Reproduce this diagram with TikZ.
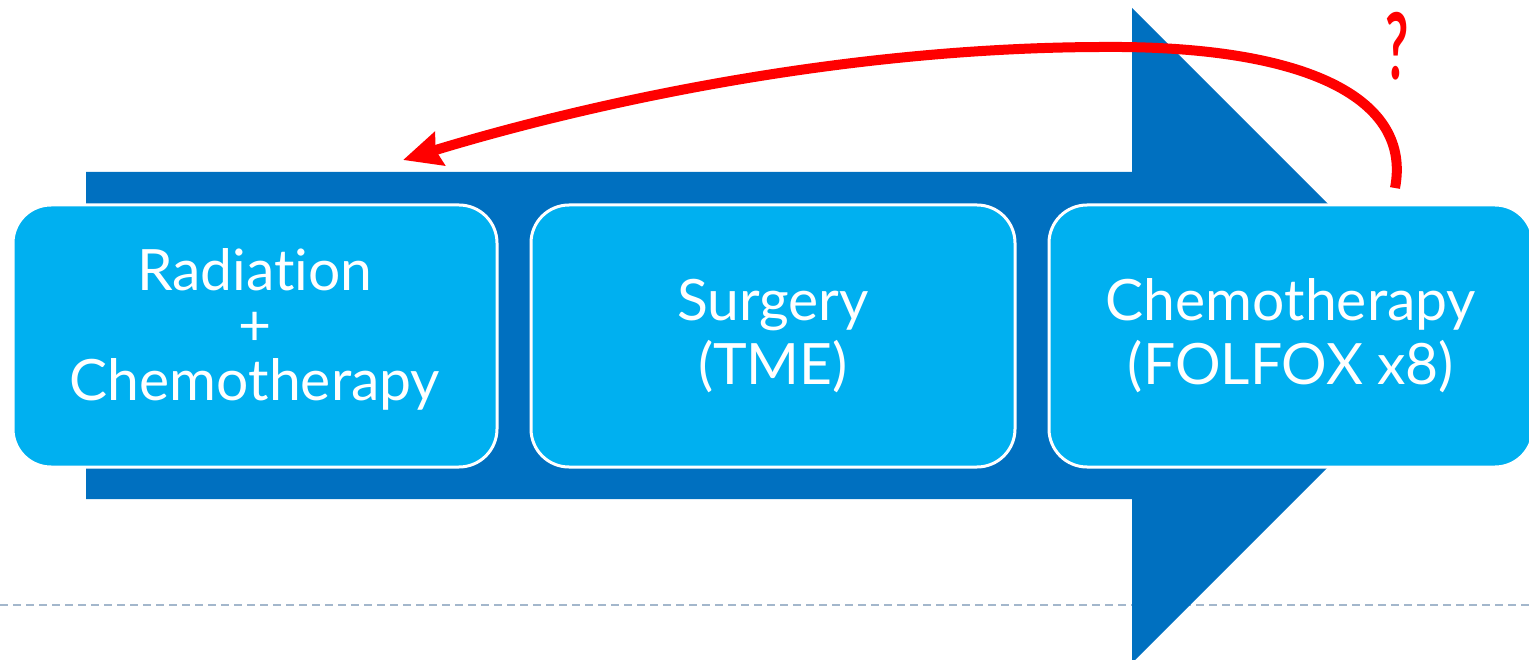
\documentclass[tikz,border=0pt]{standalone}
\usepackage{fontspec}
\newfontfamily\boxfont[Ligatures={NoCommon}]{Lato}
\newfontfamily\qfont{Lato Bold}
\usetikzlibrary{arrows.meta}
\definecolor{darkblue}{HTML}{0070C0}
\definecolor{lightblue}{HTML}{00B0F0}
\definecolor{dashcol}{HTML}{A3B7CC}
\definecolor{redline}{HTML}{FF0000}
\tikzset{
  stepbox/.style={draw=white, line width=3pt, fill=lightblue, rounded corners=38pt,
    minimum width=484pt, minimum height=262pt, inner sep=0pt, align=center,
    text=white},
  boxtextA/.style={font=\boxfont\fontsize{57}{55}\selectfont},
  boxtextB/.style={font=\boxfont\fontsize{57}{64}\selectfont},
  loopline/.style={draw=redline, line width=10pt,
    -{Stealth[length=38pt, width=34pt, inset=4pt]}},
}
\begin{document}
\begin{tikzpicture}[x=1pt, y=-1pt]
\useasboundingbox (0,0) rectangle (1529,660);
% dashed baseline
\coordinate (dl) at (0,605);
\coordinate (dr) at (1529,605);
\draw[dashcol, line width=2pt, dash pattern=on 8pt off 5pt] (dl) -- (dr);
% big arrow
\fill[darkblue] (86,172) -- (1132,172) -- (1132,8) -- (1459.5,335.5)
  -- (1132,663) -- (1132,499) -- (86,499) -- cycle;
% boxes
\node[stepbox, boxtextA] (b1) at (255,336)
  {Radiation\\+\\Chemotherapy\rule[-22pt]{0pt}{22pt}};
\node[stepbox, boxtextB] (b2) at (773,336) {Surgery\\(TME)};
\node[stepbox, boxtextB] (b3) at (1291,336) {Chemotherapy\\(FOLFOX x8)};
% red loop
\coordinate (rs) at (1395,188);
\coordinate (rt) at (1100,47);
\coordinate (re) at (403,160);
\draw[loopline] (rs) .. controls (1412,100) and (1310,45) .. (rt)
  .. controls (820,48) and (560,112) .. (re);
\node[text=redline, font=\qfont\fontsize{92}{92}\selectfont, xscale=0.55, anchor=base, inner sep=0pt] (q) at (1397,80) {?};
\end{tikzpicture}
\end{document}
